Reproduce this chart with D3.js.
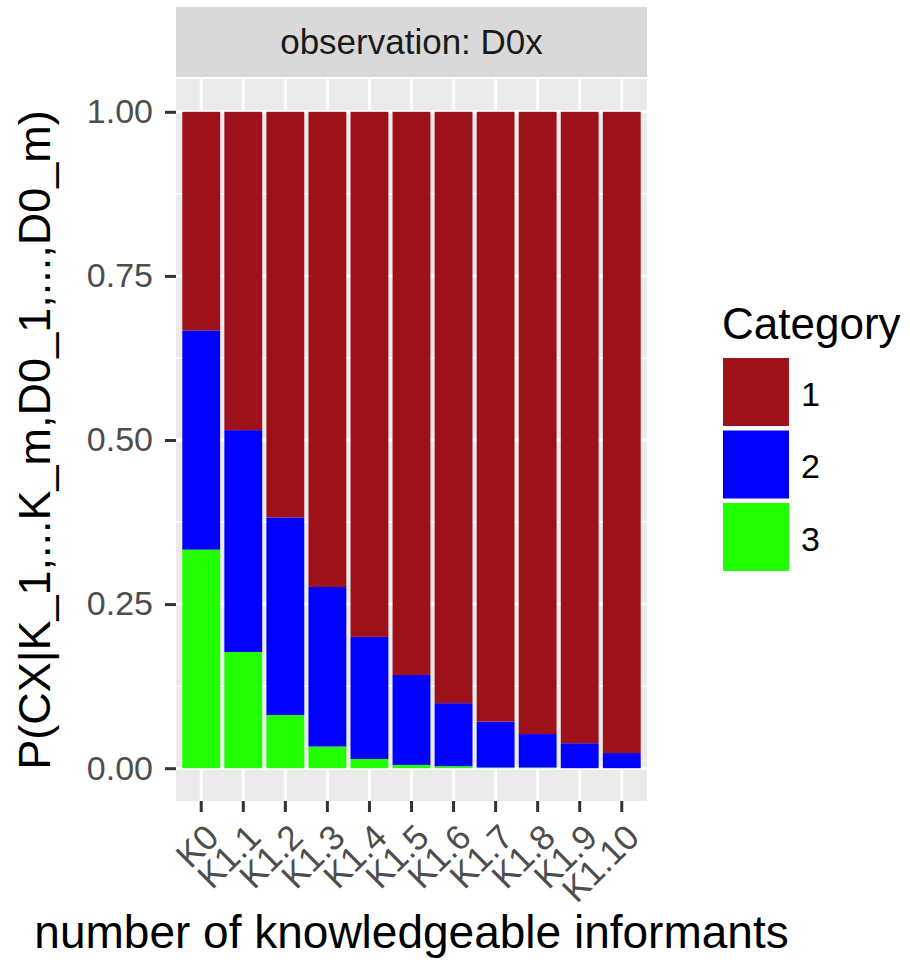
<!DOCTYPE html>
<html>
<head>
<meta charset="utf-8">
<script src="https://cdn.jsdelivr.net/npm/d3@7"></script>
<style>
  body { margin: 0; background: #fff; }
  svg { font-family: "Liberation Sans", Arial, Helvetica, sans-serif; }
</style>
</head>
<body>
<div id="chart"></div>
<script>
// informant groups on the x axis
let groups = ['K0', 'K1.1', 'K1.2', 'K1.3', 'K1.4', 'K1.5', 'K1.6', 'K1.7', 'K1.8', 'K1.9', 'K1.10'];
// posterior probability of each category
let cat1 = [0.333, 0.485, 0.618, 0.724, 0.800, 0.858, 0.901, 0.929, 0.948, 0.962, 0.977];
let cat2 = [0.334, 0.338, 0.301, 0.243, 0.186, 0.137, 0.096, 0.070, 0.051, 0.038, 0.023];
let cat3 = [0.333, 0.177, 0.081, 0.033, 0.014, 0.005, 0.003, 0.001, 0.001, 0.000, 0.000];
let categories = ['1', '2', '3'];
let catColors = ['#9e111b', '#0000ff', '#22ff00'];
let yTicks = [0, 0.25, 0.5, 0.75, 1];
let yMinor = [0.125, 0.375, 0.625, 0.875];

let svgWidth = 910, svgHeight = 975;
let panel = {left: 176, right: 647, top: 79, bottom: 801};

let svg = d3.select('#chart').append('svg')
    .attr('width', svgWidth)
    .attr('height', svgHeight);

let x = d3.scaleBand()
    .domain(groups)
    .range([panel.left, panel.right])
    .paddingInner(0.1)
    .paddingOuter(0.15);

let y = d3.scaleLinear()
    .domain([-0.05, 1.05])
    .range([panel.bottom, panel.top]);

let color = d3.scaleOrdinal().domain(categories).range(catColors);

// table for the stack, category 3 at the bottom
let rows = groups.map(function (g, i) {
    return {group: g, '1': cat1[i], '2': cat2[i], '3': cat3[i]};
});
let series = d3.stack().keys(['3', '2', '1'])(rows);

// strip on top
svg.append('rect')
    .attr('x', panel.left).attr('y', 7)
    .attr('width', panel.right - panel.left).attr('height', 70)
    .attr('fill', '#d9d9d9');
svg.append('text')
    .attr('x', (panel.left + panel.right) / 2)
    .attr('y', 42)
    .attr('dy', '0.35em')
    .attr('text-anchor', 'middle')
    .attr('font-size', 35)
    .attr('fill', '#1a1a1a')
    .text('observation: D0x');

// panel background and grid
svg.append('rect')
    .attr('x', panel.left).attr('y', panel.top)
    .attr('width', panel.right - panel.left).attr('height', panel.bottom - panel.top)
    .attr('fill', '#ebebeb');

let grid = svg.append('g').attr('stroke', '#fff');
grid.selectAll('line.minor').data(yMinor).enter().append('line')
    .attr('class', 'minor')
    .attr('x1', panel.left).attr('x2', panel.right)
    .attr('y1', function (d) { return y(d); })
    .attr('y2', function (d) { return y(d); })
    .attr('stroke-width', 1.5);
grid.selectAll('line.ymajor').data(yTicks).enter().append('line')
    .attr('class', 'ymajor')
    .attr('x1', panel.left).attr('x2', panel.right)
    .attr('y1', function (d) { return y(d); })
    .attr('y2', function (d) { return y(d); })
    .attr('stroke-width', 3);
grid.selectAll('line.xmajor').data(groups).enter().append('line')
    .attr('class', 'xmajor')
    .attr('y1', panel.top).attr('y2', panel.bottom)
    .attr('x1', function (d) { return x(d) + x.bandwidth() / 2; })
    .attr('x2', function (d) { return x(d) + x.bandwidth() / 2; })
    .attr('stroke-width', 3);

// stacked bars
svg.append('g').selectAll('g').data(series).enter().append('g')
    .attr('fill', function (s) { return color(s.key); })
    .selectAll('rect').data(function (s) { return s; }).enter().append('rect')
    .attr('x', function (d) { return x(d.data.group); })
    .attr('width', x.bandwidth())
    .attr('y', function (d) { return y(d[1]); })
    .attr('height', function (d) { return y(d[0]) - y(d[1]); });

// y axis
let yAxis = d3.axisLeft(y)
    .tickValues(yTicks)
    .tickFormat(d3.format('.2f'))
    .tickSizeInner(11).tickSizeOuter(0).tickPadding(12);
let yg = svg.append('g')
    .attr('transform', 'translate(' + panel.left + ',0)')
    .call(yAxis);
yg.select('.domain').remove();
yg.selectAll('.tick line').attr('stroke', '#333').attr('stroke-width', 3);
yg.selectAll('.tick text')
    .attr('font-size', 34)
    .attr('font-family', null)
    .attr('fill', '#4d4d4d');

// x axis
let xAxis = d3.axisBottom(x).tickSizeInner(11).tickSizeOuter(0).tickPadding(0);
let xg = svg.append('g')
    .attr('transform', 'translate(0,' + panel.bottom + ')')
    .call(xAxis);
xg.select('.domain').remove();
xg.selectAll('.tick line').attr('stroke', '#333').attr('stroke-width', 3);
xg.selectAll('.tick text')
    .attr('font-size', 35)
    .attr('font-family', null)
    .attr('fill', '#4d4d4d')
    .attr('text-anchor', 'end')
    .attr('y', 0)
    .attr('dy', '0.71em')
    .attr('transform', 'translate(2,21) rotate(-45)');

// axis titles
svg.append('text')
    .attr('x', (panel.left + panel.right) / 2)
    .attr('y', 948)
    .attr('text-anchor', 'middle')
    .attr('font-size', 46)
    .attr('fill', '#000')
    .text('number of knowledgeable informants');

svg.append('text')
    .attr('transform', 'translate(50,' + (panel.top + panel.bottom) / 2 + ') rotate(-90)')
    .attr('text-anchor', 'middle')
    .attr('font-size', 45)
    .attr('fill', '#000')
    .text('P(CX|K_1,...K_m,D0_1,...,D0_m)');

// legend
let legend = svg.append('g').attr('transform', 'translate(723,0)');
legend.append('text')
    .attr('x', -1).attr('y', 339)
    .attr('font-size', 44)
    .attr('fill', '#000')
    .text('Category');
let keys = legend.selectAll('g.key').data(categories).enter().append('g')
    .attr('class', 'key')
    .attr('transform', function (d, i) { return 'translate(0,' + (358 + i * 72.5) + ')'; });
keys.append('rect')
    .attr('width', 66).attr('height', 68)
    .attr('fill', function (d) { return color(d); });
keys.append('text')
    .attr('x', 78).attr('y', 36)
    .attr('dy', '0.35em')
    .attr('font-size', 34)
    .attr('fill', '#000')
    .text(function (d) { return d; });
</script>
</body>
</html>
